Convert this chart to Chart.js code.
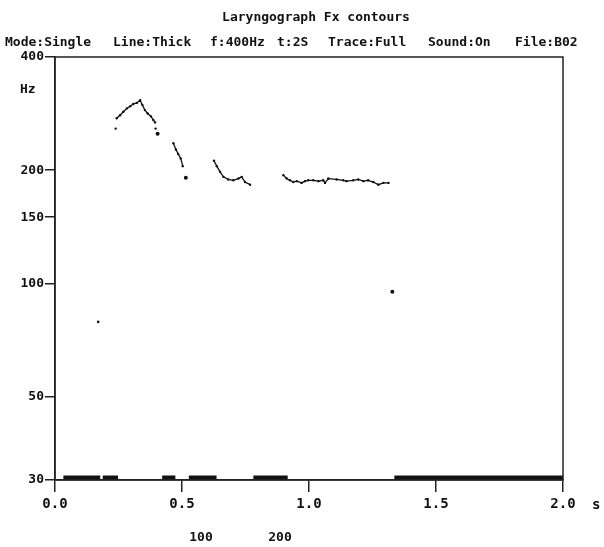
<!DOCTYPE html>
<html><head><meta charset="utf-8">
<script src="https://cdn.jsdelivr.net/npm/chart.js@4.4.1/dist/chart.umd.min.js"></script>
<style>html,body{margin:0;padding:0;background:#fff}#wrap{width:604px;height:547px;position:relative}</style>
</head><body><div id="wrap"><canvas id="c" width="604" height="547"></canvas></div>
<script>
// ---- data (time in s, Fx in Hz) ----
const seg1T = [0.243,0.256,0.269,0.283,0.296,0.308,0.322,0.335,0.344,0.354,0.365,0.378,0.387,0.394];
const seg1F = [275,280,286,292,296,300,302,307,298,289,283,278,272,268];
const seg2T = [0.466,0.476,0.485,0.495,0.503];
const seg2F = [236,227,221,215,205];
const seg3T = [0.626,0.637,0.650,0.663,0.682,0.702,0.722,0.735,0.748,0.768];
const seg3F = [212,205,198,192,189,188,190,192,186,183];
const seg4T = [0.899,0.912,0.925,0.938,0.952,0.971,0.984,0.997,1.017,1.037,1.056,1.063,1.076,1.109,1.135,1.148,1.174,1.194,1.214,1.233,1.253,1.273,1.293,1.313];
const seg4F = [194,190,188,186,187,185,187,188,188,187,188,185,190,189,188,187,188,189,187,188,186,183,185,185];
const dotT = [0.239,0.396,0.404,0.515,0.170,1.328];
const dotF = [258,258,250,191,79,95];
const voicedStart = [0.033,0.188,0.422,0.527,0.781,1.336];
const voicedEnd   = [0.178,0.248,0.474,0.636,0.916,2.000];
const yTicks = [30,50,100,150,200,400];
const xTicks = [0,0.5,1.0,1.5,2.0];
const titleText = "Laryngograph Fx contours";
const statusItems = ["Mode:Single","Line:Thick","f:400Hz","t:2S","Trace:Full","Sound:On","File:B02"];
const footLabels = ["100","200"];

function segData(){
  const out=[];
  [[seg1T,seg1F],[seg2T,seg2F],[seg3T,seg3F],[seg4T,seg4F]].forEach(([t,f],i)=>{
    if(i>0) out.push({x:(out[out.length-1].x + t[0])/2, y:null});
    t.forEach((v,k)=>out.push({x:v,y:f[k]}));
  });
  return out;
}
function voicedData(){
  const out=[];
  voicedStart.forEach((s,i)=>{
    if(i>0) out.push({x:(voicedEnd[i-1]+s)/2,y:null});
    out.push({x:s,y:30.45});out.push({x:voicedEnd[i],y:30.45});
  });
  return out;
}

const FONT = '"DejaVu Sans Mono", monospace';
const textPlugin = {
  id:'texts',
  afterDraw(chart){
    const ctx=chart.ctx, a=chart.chartArea;
    ctx.save();
    ctx.strokeStyle='#222'; ctx.lineWidth=1.5;
    ctx.strokeRect(a.left,a.top,a.right-a.left,a.bottom-a.top);
    ctx.fillStyle='#111';
    ctx.font='bold 13px '+FONT;
    ctx.textBaseline='alphabetic';
    ctx.textAlign='center';
    ctx.fillText(titleText,316,21);
    const xs=[5,113,210,277,328,428,515];
    ctx.textAlign='left';
    statusItems.forEach((s,i)=>ctx.fillText(s,xs[i],46));
    ctx.fillText('Hz',20,93);
    ctx.font='bold 14px '+FONT;
    ctx.fillText('s',592,509);
    ctx.font='bold 13px '+FONT;
    ctx.textAlign='center';
    ctx.fillText(footLabels[0],201,541);
    ctx.fillText(footLabels[1],280,541);
    ctx.restore();
  }
};

new Chart(document.getElementById('c'),{
  data:{datasets:[
    {type:'line',label:'voiced',data:voicedData(),borderColor:'#111',borderWidth:4,pointRadius:0,spanGaps:false,clip:false,borderCapStyle:'butt'},
    {type:'line',label:'Fx',data:segData(),borderColor:'#111',borderWidth:1.3,pointRadius:1.2,pointBackgroundColor:'#111',pointBorderWidth:0,spanGaps:false},
    {type:'scatter',label:'dots',data:dotT.map((t,i)=>({x:t,y:dotF[i]})),pointRadius:[1.2,1.2,2,2,1.3,2],pointBackgroundColor:'#111',pointBorderWidth:0}
  ]},
  options:{
    responsive:false,animation:false,
    layout:{padding:{top:57,right:41,left:0,bottom:0}},
    plugins:{legend:{display:false},tooltip:{enabled:false},title:{display:false}},
    scales:{
      x:{type:'linear',min:0,max:2,
        afterBuildTicks(s){s.ticks=xTicks.map(v=>({value:v}));},
        afterFit(s){s.height=67;},
        grid:{drawOnChartArea:false,drawTicks:true,tickLength:12,color:'#222',lineWidth:1.5},
        border:{display:true,color:'#222',width:1.5},
        ticks:{color:'#111',font:{family:FONT,size:14,weight:'bold'},padding:4,maxRotation:0,callback:v=>Number(v).toFixed(1)}},
      y:{type:'logarithmic',min:30,max:400,
        afterBuildTicks(s){s.ticks=yTicks.map(v=>({value:v}));},
        afterFit(s){s.width=55;},
        grid:{drawOnChartArea:false,drawTicks:true,tickLength:10,color:'#222',lineWidth:1.5},
        border:{display:true,color:'#222',width:1.5},
        ticks:{color:'#111',font:{family:FONT,size:13,weight:'bold'},padding:1,callback:v=>String(v)}}
    }
  },
  plugins:[textPlugin]
});
</script></body></html>
